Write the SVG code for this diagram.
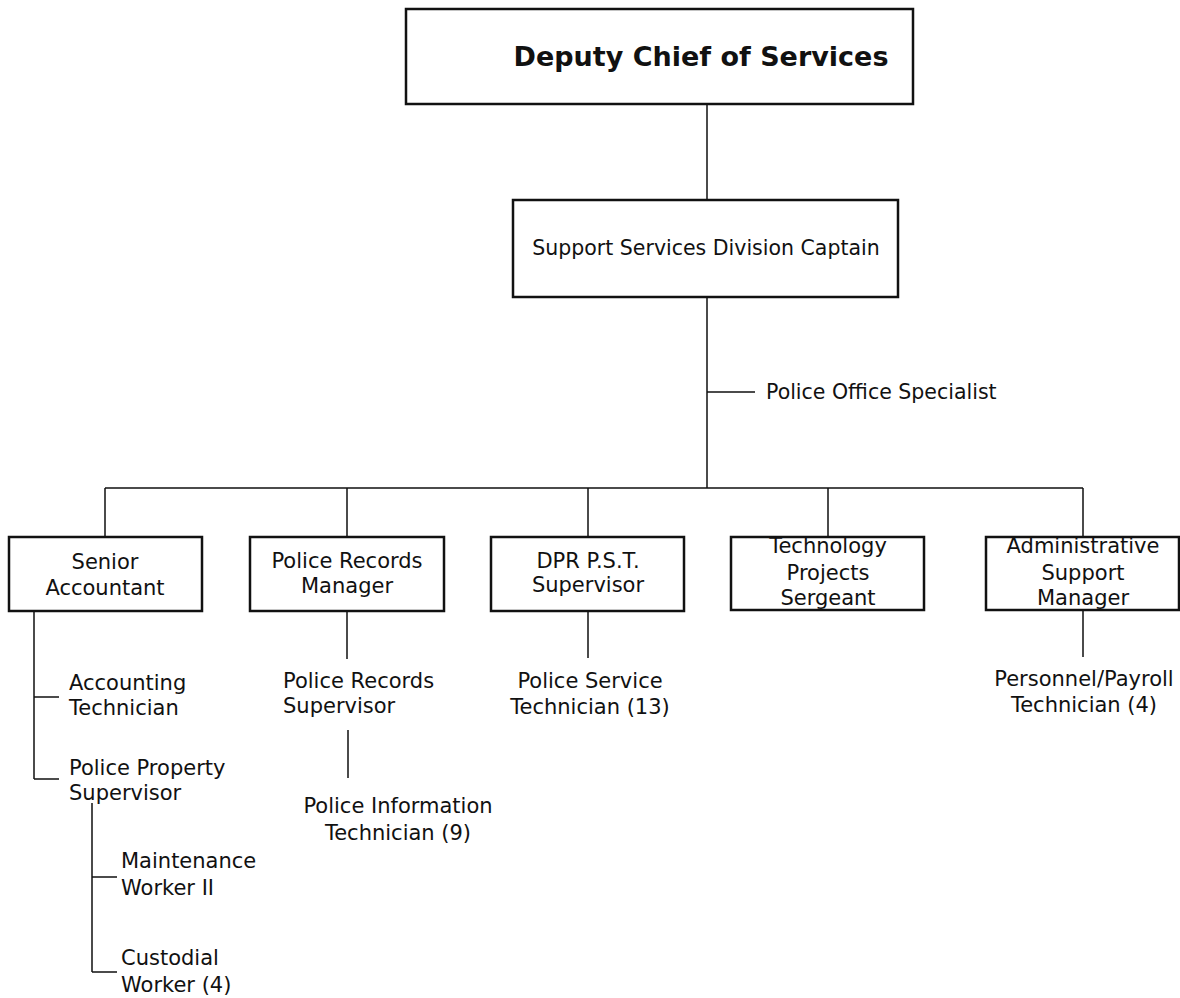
<svg xmlns="http://www.w3.org/2000/svg" width="1180" height="998" viewBox="0 0 1180 998">
<style>
.box{fill:#fff;stroke:#111;stroke-width:2.5}
.t{font-family:"DejaVu Sans","Liberation Sans",sans-serif;font-size:21px;fill:#111}
.s{font-size:20.5px}
.c{text-anchor:middle}
.title{font-family:"DejaVu Sans","Liberation Sans",sans-serif;font-size:27px;font-weight:bold;fill:#111;text-anchor:middle}
.ln{stroke:#111;stroke-width:1.5;fill:none}
</style>
<rect width="1180" height="998" fill="#fff"/>
<g id="connectors">
<path class="ln" d="M707 104V200M707 297V488M707 392H755M105 488H1083M105 488V537M347 488V537M588 488V537M828 488V537M1083 488V537"/>
<path class="ln" d="M34 611V779M34 697H59M34 779H59M92 803V972M92 877H117M92 972H117"/>
<path class="ln" d="M347 611V659M348 730V778M588 611V658M1083 610V657"/>
</g>
<g id="deputy-chief">
<rect class="box" x="406" y="9" width="507" height="95"/>
<text class="title" x="701" y="66">Deputy Chief of Services</text>
</g>
<g id="captain">
<rect class="box" x="513" y="200" width="385" height="97"/>
<text class="t s c" x="706" y="255">Support Services Division Captain</text>
</g>
<g id="office-specialist">
<text class="t s" x="766" y="399">Police Office Specialist</text>
</g>
<g id="senior-accountant">
<rect class="box" x="9" y="537" width="193" height="74"/>
<text class="t c" x="105" y="569">Senior</text>
<text class="t c" x="105" y="595">Accountant</text>
</g>
<g id="records-manager">
<rect class="box" x="250" y="537" width="194" height="74"/>
<text class="t c" x="347" y="568">Police Records</text>
<text class="t c" x="347" y="593">Manager</text>
</g>
<g id="dpr-supervisor">
<rect class="box" x="491" y="537" width="193" height="74"/>
<text class="t c" x="588" y="568">DPR P.S.T.</text>
<text class="t c" x="588" y="592">Supervisor</text>
</g>
<g id="tech-sergeant">
<rect class="box" x="731" y="537" width="193" height="73"/>
<text class="t c" x="828" y="553">Technology</text>
<text class="t c" x="828" y="580">Projects</text>
<text class="t c" x="828" y="605">Sergeant</text>
</g>
<g id="admin-manager">
<rect class="box" x="986" y="537" width="193" height="73"/>
<text class="t c" x="1083" y="553">Administrative</text>
<text class="t c" x="1083" y="580">Support</text>
<text class="t c" x="1083" y="605">Manager</text>
</g>
<g id="accounting-technician">
<text class="t" x="69" y="690">Accounting</text>
<text class="t" x="69" y="715">Technician</text>
</g>
<g id="property-supervisor">
<text class="t" x="69" y="775">Police Property</text>
<text class="t" x="69" y="800">Supervisor</text>
</g>
<g id="maintenance-worker">
<text class="t" x="121" y="868">Maintenance</text>
<text class="t" x="121" y="895">Worker II</text>
</g>
<g id="custodial-worker">
<text class="t" x="121" y="965">Custodial</text>
<text class="t" x="121" y="992">Worker (4)</text>
</g>
<g id="records-supervisor">
<text class="t" x="283" y="688">Police Records</text>
<text class="t" x="283" y="713">Supervisor</text>
</g>
<g id="information-technician">
<text class="t c" x="398" y="813">Police Information</text>
<text class="t c" x="398" y="840">Technician (9)</text>
</g>
<g id="service-technician">
<text class="t c" x="590" y="688">Police Service</text>
<text class="t c" x="590" y="714">Technician (13)</text>
</g>
<g id="payroll-technician">
<text class="t c" x="1084" y="686">Personnel/Payroll</text>
<text class="t c" x="1084" y="712">Technician (4)</text>
</g>
</svg>
